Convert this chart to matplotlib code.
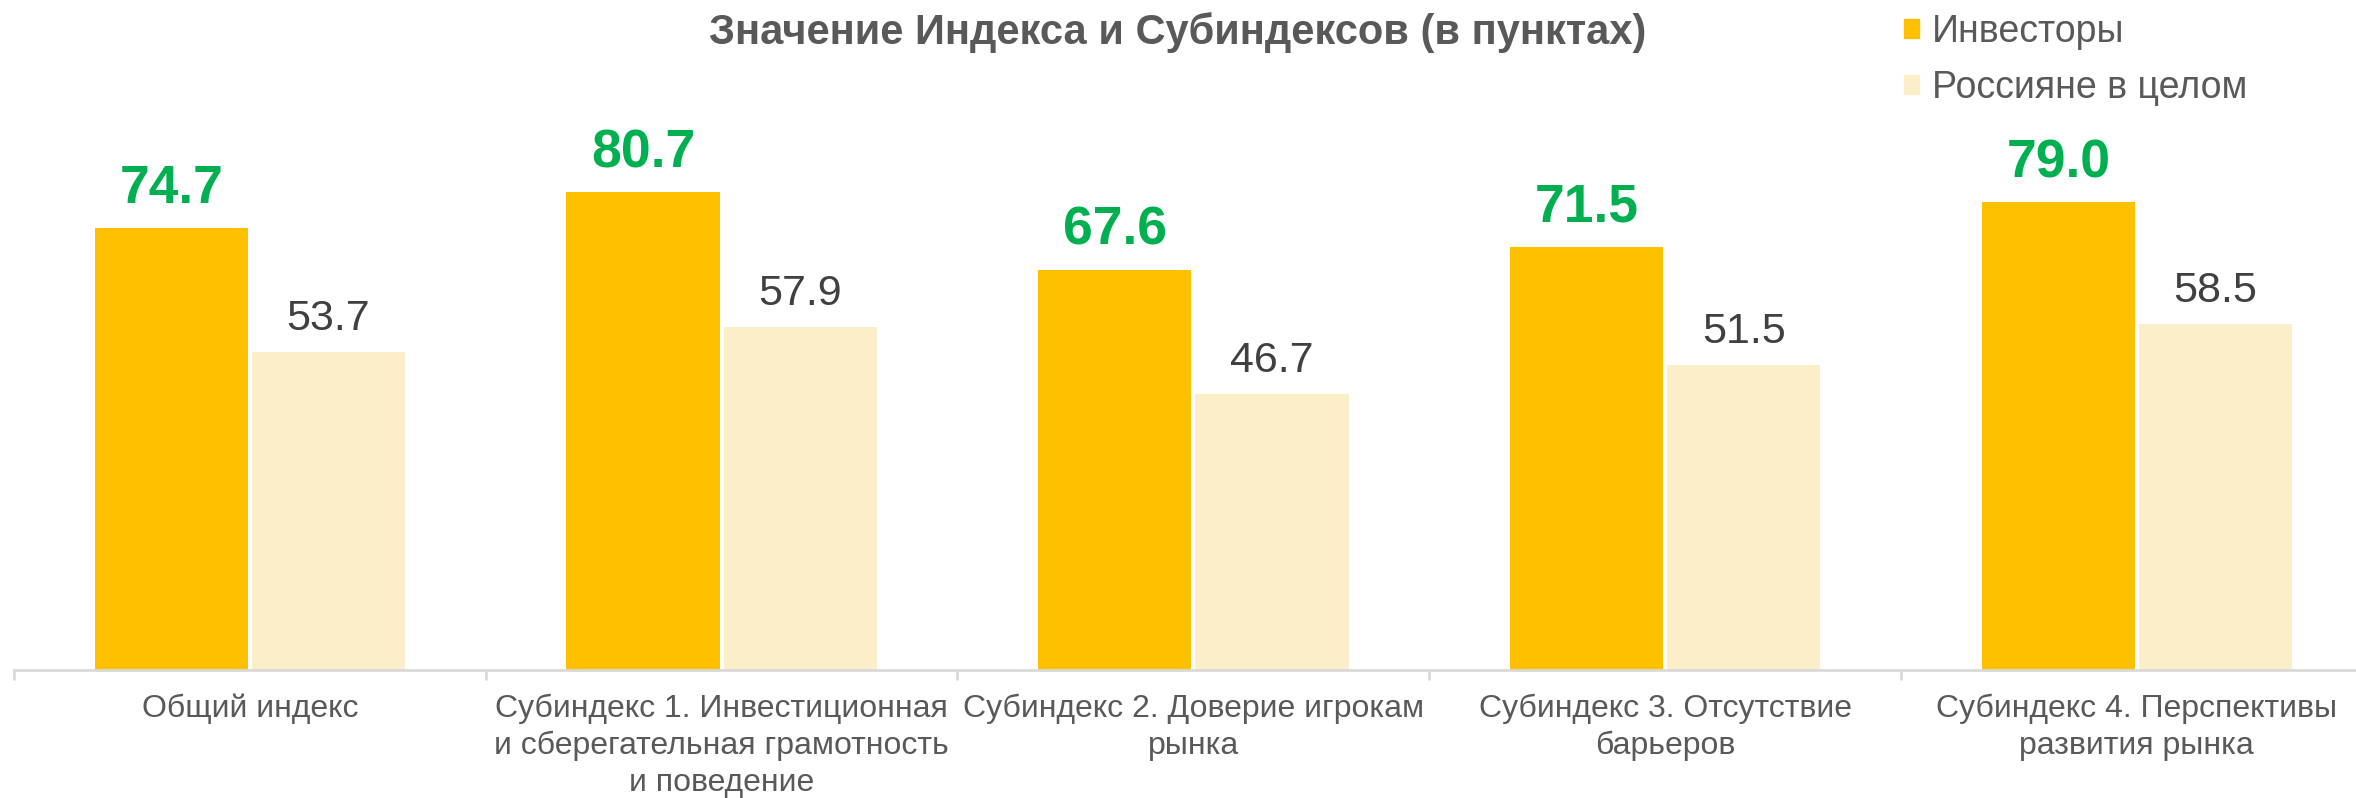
import matplotlib.pyplot as plt
import matplotlib.patches as mpatches
import numpy as np

categories = ['Общий индекс',
              'Субиндекс 1. Инвестиционная\nи сберегательная грамотность\nи поведение',
              'Субиндекс 2. Доверие игрокам\nрынка',
              'Субиндекс 3. Отсутствие\nбарьеров',
              'Субиндекс 4. Перспективы\nразвития рынка']
investors = [74.7, 80.7, 67.6, 71.5, 79.0]
russians = [53.7, 57.9, 46.7, 51.5, 58.5]
series_names = ['Инвесторы', 'Россияне в целом']

c_inv = '#FFC000'
c_rus = '#FDEECA'
c_green = '#00B050'
c_text = '#595959'

plt.rcParams['font.family'] = ['Liberation Sans', 'DejaVu Sans']

W, H = 2356, 798
fig = plt.figure(figsize=(W / 100, H / 100), dpi=100)
# axes runs a little past the right edge, like the original
ax = fig.add_axes([14 / W, 128 / H, 5 * 471.75 / W, 670 / H])

x = np.arange(len(categories))
bw = 0.325
off = 0.1665
ax.bar(x - off, investors, width=bw, color=c_inv)
ax.bar(x + off, russians, width=bw, color=c_rus)

for xi, v in zip(x - off, investors):
    ax.annotate(f'{v:.1f}', (xi, v), xytext=(0, 25), textcoords='offset pixels',
                ha='center', va='baseline', fontsize=38.5, fontweight='bold', color=c_green)
for xi, v in zip(x + off, russians):
    ax.annotate(f'{v:.1f}', (xi, v), xytext=(0, 22), textcoords='offset pixels',
                ha='center', va='baseline', fontsize=31, color='#404040')

ax.set_xlim(-0.5, len(categories) - 0.5)
ax.set_ylim(0, 670 / 5.92)

for s in ['top', 'right', 'left']:
    ax.spines[s].set_visible(False)
ax.spines['bottom'].set_color('#D9D9D9')
ax.spines['bottom'].set_linewidth(2)
ax.set_yticks([])

# ticks on category borders, labels in between
ax.set_xticks(np.arange(len(categories) + 1) - 0.5)
ax.set_xticklabels([])
ax.tick_params(axis='x', which='major', length=7, width=2, color='#D9D9D9')
ax.set_xticks(x, minor=True)
ax.set_xticklabels(categories, minor=True, fontsize=23, color=c_text, linespacing=1.3)
ax.tick_params(axis='x', which='minor', length=0, pad=17)

fig.text(0.5, 0.985, 'Значение Индекса и Субиндексов (в пунктах)', ha='center', va='top',
         fontsize=30, fontweight='bold', color=c_text)

handles = [mpatches.Patch(color=c_inv), mpatches.Patch(color=c_rus)]
fig.legend(handles, series_names, loc='upper left', bbox_to_anchor=(1900 / W, 0.9875),
           frameon=False, fontsize=27, labelcolor=c_text, handlelength=0.4, handleheight=0.4,
           handletextpad=0.35, labelspacing=0.53, borderpad=0.1, borderaxespad=0)

fig.savefig('out.png', dpi=100)
